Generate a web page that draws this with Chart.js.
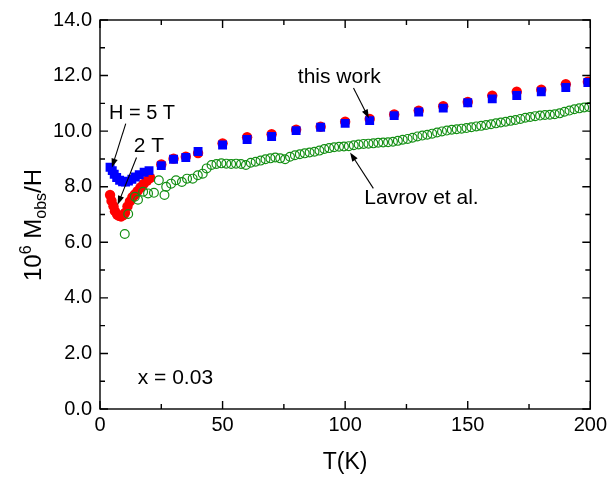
<!DOCTYPE html>
<html><head><meta charset="utf-8">
<script src="https://cdn.jsdelivr.net/npm/chart.js@4.4.0/dist/chart.umd.min.js"></script>
<style>html,body{margin:0;padding:0;background:#fff;}#wrap{width:611px;height:484px;}</style>
</head><body><div id="wrap"><canvas id="c" width="611" height="484"></canvas></div>
<script>
// ---- data ----
const T_5T = [4.1, 5.0, 5.8, 6.8, 8.0, 9.2, 10.4, 11.6, 13.0, 14.4, 16.0, 18.0, 20.0, 25, 30, 35, 40, 50, 60, 70, 80, 90, 100, 110, 120, 130, 140, 150, 160, 170, 180, 190, 199];
const M_5T = [8.70, 8.58, 8.45, 8.33, 8.23, 8.18, 8.17, 8.20, 8.27, 8.35, 8.43, 8.52, 8.58, 8.76, 8.99, 9.05, 9.27, 9.50, 9.70, 9.81, 10.02, 10.14, 10.28, 10.38, 10.56, 10.69, 10.83, 11.02, 11.16, 11.28, 11.42, 11.57, 11.75];

const T_2T = [4.1, 4.7, 5.5, 6.1, 7.0, 7.8, 8.6, 9.5, 10.2, 11.2, 12.2, 13.2, 14.2, 15.3, 16.5, 17.8, 19.2, 20.5, 25, 30, 35, 40, 50, 60, 70, 80, 90, 100, 110, 120, 130, 140, 150, 160, 170, 180, 190, 199];
const M_2T = [7.70, 7.49, 7.30, 7.12, 7.00, 6.95, 6.93, 6.98, 7.06, 7.29, 7.47, 7.62, 7.72, 7.84, 7.97, 8.10, 8.22, 8.32, 8.80, 9.01, 9.08, 9.21, 9.56, 9.78, 9.89, 10.05, 10.16, 10.34, 10.44, 10.60, 10.74, 10.90, 11.05, 11.28, 11.42, 11.49, 11.69, 11.78];

const T_LAV = [10.1, 11.5, 14.2, 15.5, 17.6, 19.6, 22.0, 24.0, 26.3, 27.0, 29.0, 31.0, 33.4, 35.5, 37.8, 39.9, 41.9, 43.5, 45.5, 47.5, 49.5, 51.5, 53.5, 55.5, 57.5, 59.5, 61.5, 63.5, 65.5, 67.5, 69.5, 71.5, 73.5, 75.5, 77.5, 79.5, 81.5, 83.5, 85.5, 87.5, 89.5, 91.5, 93.5, 95.5, 97.5, 99.5, 101.5, 103.5, 105.5, 107.5, 109.5, 111.5, 113.5, 115.5, 117.5, 119.5, 121.5, 123.5, 125.5, 127.5, 129.5, 131.5, 133.5, 135.5, 137.5, 139.5, 141.5, 143.5, 145.5, 147.5, 149.5, 151.5, 153.5, 155.5, 157.5, 159.5, 161.5, 163.5, 165.5, 167.5, 169.5, 171.5, 173.5, 175.5, 177.5, 179.5, 181.5, 183.5, 185.5, 187.5, 189.5, 191.5, 193.5, 195.5, 197.5, 199.5];
const M_LAV = [6.30, 7.02, 7.64, 7.53, 7.82, 7.76, 7.78, 8.23, 7.70, 8.00, 8.11, 8.23, 8.17, 8.29, 8.29, 8.41, 8.47, 8.66, 8.78, 8.82, 8.84, 8.83, 8.82, 8.83, 8.82, 8.78, 8.86, 8.90, 8.94, 8.99, 9.02, 9.05, 9.02, 8.99, 9.08, 9.13, 9.17, 9.20, 9.23, 9.26, 9.30, 9.36, 9.39, 9.42, 9.44, 9.45, 9.46, 9.49, 9.52, 9.54, 9.55, 9.56, 9.58, 9.59, 9.60, 9.62, 9.65, 9.69, 9.72, 9.76, 9.81, 9.84, 9.87, 9.91, 9.95, 9.99, 10.02, 10.05, 10.07, 10.09, 10.11, 10.14, 10.17, 10.19, 10.22, 10.25, 10.28, 10.31, 10.34, 10.37, 10.40, 10.44, 10.48, 10.51, 10.54, 10.56, 10.58, 10.59, 10.61, 10.64, 10.70, 10.74, 10.79, 10.82, 10.85, 10.87];

const X_MAJOR = [0, 50, 100, 150, 200];
const X_MINOR = [25, 75, 125, 175];
const Y_MAJOR = [0, 2, 4, 6, 8, 10, 12, 14];
const Y_MINOR = [1, 3, 5, 7, 9, 11, 13];

// annotations in data coordinates
const LABELS = [
  {text: 'H = 5 T', T: 3.65, M: 10.42},
  {text: '2 T', T: 13.8, M: 9.25},
  {text: 'this work', T: 80.7, M: 11.75},
  {text: 'Lavrov et al.', T: 107.8, M: 7.39},
  {text: 'x = 0.03', T: 15.4, M: 0.91}
];
const ARROWS = [
  {from: [10.5, 10.27], to: [4.86, 8.69]},
  {from: [14.9, 9.05], to: [7.2, 7.35]},
  {from: [103.4, 11.55], to: [109.7, 10.46]},
  {from: [111.5, 7.94], to: [102.0, 9.23]}
];

const FONT = '"Liberation Sans", Arial, sans-serif';
const zip = (xs, ys) => xs.map((x, i) => ({x, y: ys[i]}));

const decor = {
  id: 'decor',
  afterDatasetsDraw(chart) {
    const {ctx, chartArea: a, scales: {x, y}} = chart;
    ctx.save();
    ctx.strokeStyle = '#000';
    ctx.lineWidth = 1.4;
    ctx.strokeRect(a.left, a.top, a.right - a.left, a.bottom - a.top);
    ctx.beginPath();
    const tick = (vals, len, horiz) => {
      vals.forEach(v => {
        if (horiz) {
          const px = x.getPixelForValue(v);
          ctx.moveTo(px, a.bottom); ctx.lineTo(px, a.bottom - len);
          ctx.moveTo(px, a.top); ctx.lineTo(px, a.top + len);
        } else {
          const py = y.getPixelForValue(v);
          ctx.moveTo(a.left, py); ctx.lineTo(a.left + len, py);
          ctx.moveTo(a.right, py); ctx.lineTo(a.right - len, py);
        }
      });
    };
    tick(X_MAJOR, 8, true); tick(X_MINOR, 5, true);
    tick(Y_MAJOR, 8, false); tick(Y_MINOR, 5, false);
    ctx.stroke();

    // arrows
    ctx.lineWidth = 1.1;
    ctx.fillStyle = '#000';
    ARROWS.forEach(ar => {
      const x1 = x.getPixelForValue(ar.from[0]), y1 = y.getPixelForValue(ar.from[1]);
      const x2 = x.getPixelForValue(ar.to[0]), y2 = y.getPixelForValue(ar.to[1]);
      const ang = Math.atan2(y2 - y1, x2 - x1);
      const L = 9, W = 3.2;
      ctx.beginPath(); ctx.moveTo(x1, y1);
      ctx.lineTo(x2 - Math.cos(ang) * L * 0.8, y2 - Math.sin(ang) * L * 0.8); ctx.stroke();
      ctx.beginPath();
      ctx.moveTo(x2, y2);
      ctx.lineTo(x2 - Math.cos(ang) * L - Math.sin(ang) * W, y2 - Math.sin(ang) * L + Math.cos(ang) * W);
      ctx.lineTo(x2 - Math.cos(ang) * L + Math.sin(ang) * W, y2 - Math.sin(ang) * L - Math.cos(ang) * W);
      ctx.closePath(); ctx.fill();
    });

    // text labels
    ctx.fillStyle = '#000';
    ctx.textAlign = 'left';
    ctx.textBaseline = 'alphabetic';
    LABELS.forEach(l => {
      ctx.font = (l.text === 'H = 5 T' ? '20px ' : '21px ') + FONT;
      ctx.fillText(l.text, x.getPixelForValue(l.T), y.getPixelForValue(l.M));
    });

    // x title
    ctx.font = '23px ' + FONT;
    ctx.textAlign = 'center';
    ctx.fillText('T(K)', (a.left + a.right) / 2, 469);

    // y title with super/subscript
    const parts = [['10', 24, 0], ['6', 16, -10], [' M', 24, 0], ['obs', 16, 5], ['/H', 24, 0]];
    let total = 0;
    parts.forEach(p => { ctx.font = p[1] + 'px ' + FONT; total += ctx.measureText(p[0]).width; });
    ctx.translate(41, 225);
    ctx.rotate(-Math.PI / 2);
    ctx.textAlign = 'left';
    let cx = -total / 2;
    parts.forEach(p => {
      ctx.font = p[1] + 'px ' + FONT;
      ctx.fillText(p[0], cx, p[2]);
      cx += ctx.measureText(p[0]).width;
    });
    ctx.restore();
  }
};

new Chart(document.getElementById('c'), {
  type: 'scatter',
  data: {
    datasets: [
      {label: 'Lavrov et al.', data: zip(T_LAV, M_LAV), pointStyle: 'circle', pointRadius: 4.4,
       borderColor: '#138f13', backgroundColor: 'rgba(0,0,0,0)', borderWidth: 1.2},
      {label: '5 T', data: zip(T_5T, M_5T), pointStyle: 'rect', pointRadius: 6.3,
       borderColor: '#0000ff', backgroundColor: '#0000ff', borderWidth: 0},
      {label: '2 T', data: zip(T_2T, M_2T), pointStyle: 'circle', pointRadius: 5.2,
       borderColor: '#ff0000', backgroundColor: '#ff0000', borderWidth: 0}
    ]
  },
  options: {
    responsive: false,
    animation: false,
    devicePixelRatio: 1,
    layout: {padding: {left: 0, top: 11, right: 18, bottom: 0}},
    plugins: {legend: {display: false}, tooltip: {enabled: false}},
    elements: {point: {hoverRadius: 5}},
    scales: {
      x: {
        type: 'linear', min: 0, max: 200,
        afterBuildTicks: s => { s.ticks = X_MAJOR.map(v => ({value: v})); },
        ticks: {font: {family: FONT, size: 20}, color: '#000', padding: 4, maxRotation: 0},
        grid: {display: false, drawTicks: false},
        border: {display: false},
        afterFit: s => { s.height = 75; }
      },
      y: {
        type: 'linear', min: 0, max: 14,
        afterBuildTicks: s => { s.ticks = Y_MAJOR.map(v => ({value: v})); },
        ticks: {font: {family: FONT, size: 20}, color: '#000', padding: 8,
                callback: v => Number(v).toFixed(1)},
        grid: {display: false, drawTicks: false},
        border: {display: false},
        afterFit: s => { s.width = 100; }
      }
    }
  },
  plugins: [decor]
});
</script>
</body></html>
